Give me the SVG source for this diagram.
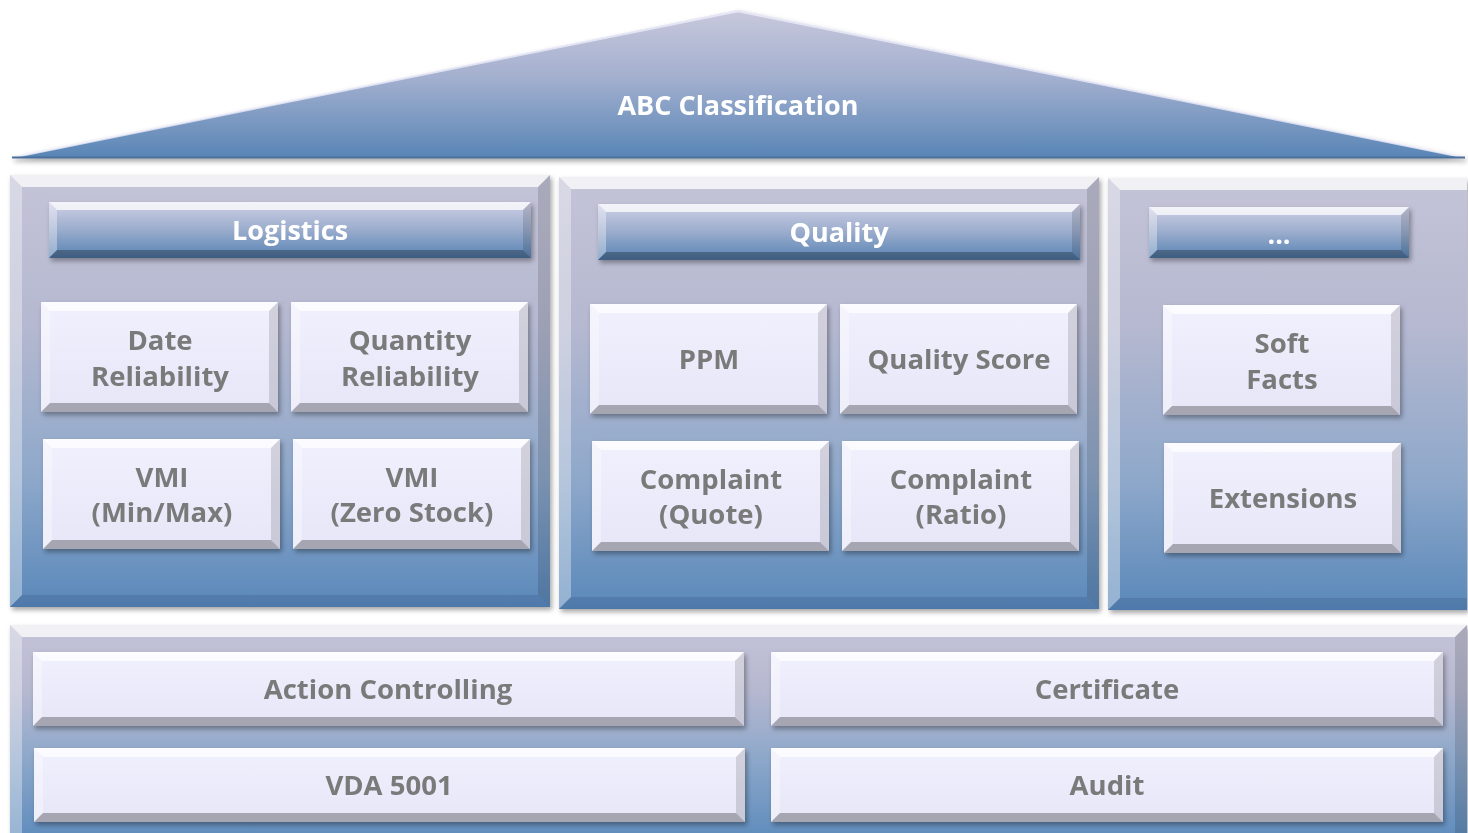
<svg xmlns="http://www.w3.org/2000/svg" xmlns:xlink="http://www.w3.org/1999/xlink" width="1468" height="833" viewBox="0 0 1468 833">
<style>
.lbl{font-family:"Open Sans","Liberation Sans",sans-serif;font-weight:bold;font-size:27.5px;fill:#7a7a7a;text-anchor:middle}
.hdr{font-family:"Open Sans","Liberation Sans",sans-serif;font-weight:bold;font-size:27px;fill:#ffffff;text-anchor:middle}
.box{fill:url(#gBox)}
.panel{fill:url(#gPanel)}
.head{fill:url(#gHead)}
.hi{fill:#ffffff;fill-opacity:0.75}
.hl{fill:#ffffff;fill-opacity:0.35}
.sr{fill:#000000;fill-opacity:0.13}
.sb{fill:#000000;fill-opacity:0.28}
.psb{fill:#1a3a66;fill-opacity:0.18}
</style>
<defs>
<linearGradient id="gBox" x1="0" y1="0" x2="0" y2="1">
<stop offset="0" stop-color="#f1f0fd"/><stop offset="1" stop-color="#e6e6f8"/>
</linearGradient>
<linearGradient id="gPanel" x1="0" y1="0" x2="0" y2="1">
<stop offset="0" stop-color="#c4c4d8"/><stop offset="0.35" stop-color="#b5b8d0"/><stop offset="0.7" stop-color="#8ea8ca"/><stop offset="1" stop-color="#5a88ba"/>
</linearGradient>
<linearGradient id="gBottom" x1="0" y1="0" x2="0" y2="1">
<stop offset="0" stop-color="#c4c4d8"/><stop offset="0.3" stop-color="#b6b8d0"/><stop offset="0.6" stop-color="#8ea8ca"/><stop offset="1" stop-color="#5b8abc"/>
</linearGradient>
<linearGradient id="gHead" x1="0" y1="0" x2="0" y2="1">
<stop offset="0" stop-color="#cfd0e6"/><stop offset="0.5" stop-color="#9aaccc"/><stop offset="1" stop-color="#5783b4"/>
</linearGradient>
<linearGradient id="gRoof" x1="0" y1="0" x2="0" y2="1">
<stop offset="0" stop-color="#c8c8dc"/><stop offset="0.45" stop-color="#a4b0cf"/><stop offset="1" stop-color="#5885b6"/>
</linearGradient>
<filter id="sh" x="-5%" y="-10%" width="110%" height="125%">
<feDropShadow dx="2" dy="3" stdDeviation="2.5" flood-color="#000" flood-opacity="0.35"/>
</filter>
<g id="bevS">
<polygon class="hi" points="0,0 237,0 228,9 9,9"/>
<polygon class="hl" points="0,0 9,9 9,101 0,110"/>
<polygon class="sr" points="237,0 237,110 228,101 228,9"/>
<polygon class="sb" points="0,110 237,110 228,101 9,101"/>
</g>
<g id="bevW">
<polygon class="hi" points="0,0 711,0 702,9 9,9"/>
<polygon class="hl" points="0,0 9,9 9,65 0,74"/>
<polygon class="sr" points="711,0 711,74 702,65 702,9"/>
<polygon class="sb" points="0,74 711,74 702,65 9,65"/>
</g>
<g id="bevM">
<polygon class="hi" points="0,0 672,0 663,9 9,9"/>
<polygon class="hl" points="0,0 9,9 9,65 0,74"/>
<polygon class="sr" points="672,0 672,74 663,65 663,9"/>
<polygon class="sb" points="0,74 672,74 663,65 9,65"/>
</g>
<g id="bevH">
<polygon class="hi" points="0,0 482,0 474,8 8,8"/>
<polygon class="hl" points="0,0 8,8 8,48 0,56"/>
<polygon class="sr" points="482,0 482,56 474,48 474,8"/>
<polygon class="sb" points="0,56 482,56 474,48 8,48"/>
</g>
<g id="bevP">
<polygon class="hi" points="0,0 540,0 528,12 12,12"/>
<polygon class="hl" points="0,0 12,12 12,420 0,432"/>
<polygon class="sr" points="540,0 540,432 528,420 528,12"/>
<polygon class="psb" points="0,432 540,432 528,420 12,420"/>
</g>
</defs>

<g id="roof" filter="url(#sh)">
<polygon points="12,158 738,10 1465,158" fill="url(#gRoof)"/>
<polyline points="14,157 738,11 1463,157" fill="none" stroke="#eeeefa" stroke-width="2.5" stroke-opacity="0.8"/>
<line x1="12" y1="157.5" x2="1465" y2="157.5" stroke="#4a6f99" stroke-width="2"/>
<text class="hdr" x="738" y="115">ABC Classification</text>
</g>

<g id="panel-logistics" filter="url(#sh)">
<rect x="10" y="175" width="540" height="432" class="panel"/>
<use xlink:href="#bevP" x="10" y="175"/>
</g>
<g id="panel-quality" filter="url(#sh)">
<rect x="559" y="177" width="540" height="432" class="panel"/>
<use xlink:href="#bevP" x="559" y="177"/>
</g>
<g id="panel-other" filter="url(#sh)">
<rect x="1108" y="178" width="359" height="432" class="panel"/>
<polygon class="hi" points="1108,178 1467,178 1467,190 1120,190"/>
<polygon class="hl" points="1108,178 1120,190 1120,598 1108,610"/>
<polygon class="psb" points="1108,610 1467,610 1467,598 1120,598"/>
</g>
<g id="panel-base" filter="url(#sh)">
<rect x="10" y="625" width="1457" height="220" fill="url(#gBottom)"/>
<polygon class="hi" points="10,625 1467,625 1455,637 22,637"/>
<polygon class="hl" points="10,625 22,637 22,845 10,845"/>
<polygon class="sr" points="1467,625 1467,845 1455,845 1455,637"/>
</g>

<g id="hdr-logistics" filter="url(#sh)">
<rect x="49" y="202" width="482" height="56" class="head"/>
<use xlink:href="#bevH" x="49" y="202"/>
<text class="hdr" x="290" y="240">Logistics</text>
</g>
<g id="hdr-quality" filter="url(#sh)">
<rect x="598" y="204" width="482" height="56" class="head"/>
<use xlink:href="#bevH" x="598" y="204"/>
<text class="hdr" x="839" y="242">Quality</text>
</g>
<g id="hdr-more" filter="url(#sh)">
<rect x="1149" y="207" width="260" height="51" class="head"/>
<polygon class="hi" points="1149,207 1409,207 1401,215 1157,215"/>
<polygon class="hl" points="1149,207 1157,215 1157,250 1149,258"/>
<polygon class="sr" points="1409,207 1409,258 1401,250 1401,215"/>
<polygon class="sb" points="1149,258 1409,258 1401,250 1157,250"/>
<text class="hdr" x="1279" y="244">...</text>
</g>

<g id="date-reliability" filter="url(#sh)">
<rect x="41" y="302" width="237" height="110" class="box"/>
<use xlink:href="#bevS" x="41" y="302"/>
<text class="lbl" x="160" y="350">Date</text>
<text class="lbl" x="160" y="386">Reliability</text>
</g>
<g id="quantity-reliability" filter="url(#sh)">
<rect x="291" y="302" width="237" height="110" class="box"/>
<use xlink:href="#bevS" x="291" y="302"/>
<text class="lbl" x="410" y="350">Quantity</text>
<text class="lbl" x="410" y="386">Reliability</text>
</g>
<g id="vmi-minmax" filter="url(#sh)">
<rect x="43" y="439" width="237" height="110" class="box"/>
<use xlink:href="#bevS" x="43" y="439"/>
<text class="lbl" x="162" y="487">VMI</text>
<text class="lbl" x="162" y="522">(Min/Max)</text>
</g>
<g id="vmi-zero" filter="url(#sh)">
<rect x="293" y="439" width="237" height="110" class="box"/>
<use xlink:href="#bevS" x="293" y="439"/>
<text class="lbl" x="412" y="487">VMI</text>
<text class="lbl" x="412" y="522">(Zero Stock)</text>
</g>

<g id="ppm" filter="url(#sh)">
<rect x="590" y="304" width="237" height="110" class="box"/>
<use xlink:href="#bevS" x="590" y="304"/>
<text class="lbl" x="709" y="369">PPM</text>
</g>
<g id="quality-score" filter="url(#sh)">
<rect x="840" y="304" width="237" height="110" class="box"/>
<use xlink:href="#bevS" x="840" y="304"/>
<text class="lbl" x="959" y="369">Quality Score</text>
</g>
<g id="complaint-quote" filter="url(#sh)">
<rect x="592" y="441" width="237" height="110" class="box"/>
<use xlink:href="#bevS" x="592" y="441"/>
<text class="lbl" x="711" y="489">Complaint</text>
<text class="lbl" x="711" y="524">(Quote)</text>
</g>
<g id="complaint-ratio" filter="url(#sh)">
<rect x="842" y="441" width="237" height="110" class="box"/>
<use xlink:href="#bevS" x="842" y="441"/>
<text class="lbl" x="961" y="489">Complaint</text>
<text class="lbl" x="961" y="524">(Ratio)</text>
</g>

<g id="soft-facts" filter="url(#sh)">
<rect x="1163" y="305" width="237" height="110" class="box"/>
<use xlink:href="#bevS" x="1163" y="305"/>
<text class="lbl" x="1282" y="353">Soft</text>
<text class="lbl" x="1282" y="389">Facts</text>
</g>
<g id="extensions" filter="url(#sh)">
<rect x="1164" y="443" width="237" height="110" class="box"/>
<use xlink:href="#bevS" x="1164" y="443"/>
<text class="lbl" x="1283" y="508">Extensions</text>
</g>

<g id="action-controlling" filter="url(#sh)">
<rect x="33" y="652" width="711" height="74" class="box"/>
<use xlink:href="#bevW" x="33" y="652"/>
<text class="lbl" x="388" y="699">Action Controlling</text>
</g>
<g id="certificate" filter="url(#sh)">
<rect x="771" y="652" width="672" height="74" class="box"/>
<use xlink:href="#bevM" x="771" y="652"/>
<text class="lbl" x="1107" y="699">Certificate</text>
</g>
<g id="vda-5001" filter="url(#sh)">
<rect x="34" y="748" width="711" height="74" class="box"/>
<use xlink:href="#bevW" x="34" y="748"/>
<text class="lbl" x="389" y="795">VDA 5001</text>
</g>
<g id="audit" filter="url(#sh)">
<rect x="771" y="748" width="672" height="74" class="box"/>
<use xlink:href="#bevM" x="771" y="748"/>
<text class="lbl" x="1107" y="795">Audit</text>
</g>

<g id="connectors"></g>
</svg>
